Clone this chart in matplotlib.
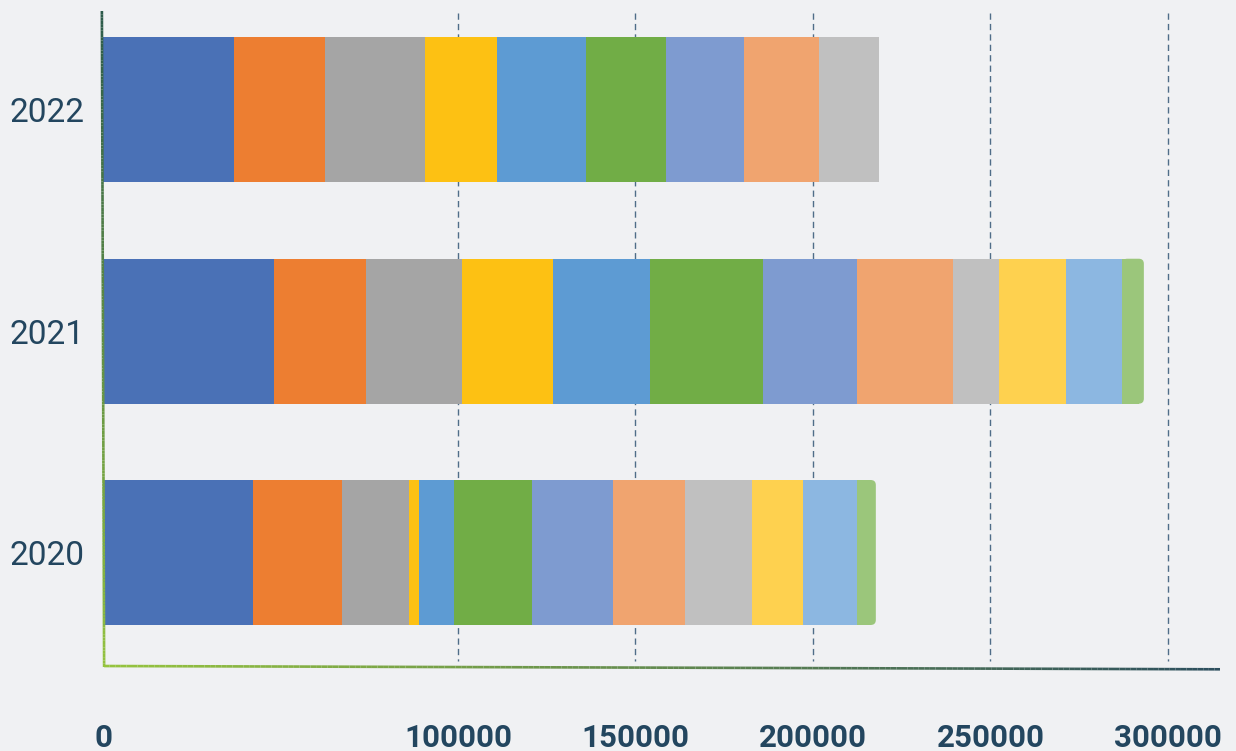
import numpy as np
import matplotlib
matplotlib.use("Agg")
import matplotlib.pyplot as plt
from matplotlib.collections import LineCollection
from matplotlib.colors import to_rgb
from matplotlib.patches import FancyBboxPatch

years = ["2020", "2021", "2022"]
values_2020 = [42250, 24950, 18900, 3000, 9800, 21900, 22800, 20300, 18900, 14400, 15200, 5300]
values_2021 = [48250, 25750, 27200, 25600, 27300, 31800, 26400, 27200, 12900, 18900, 15800, 6100]
values_2022 = [36900, 25700, 28100, 20300, 25000, 22700, 21900, 21100, 16800]
x_ticks = [0, 100000, 150000, 200000, 250000, 300000]

colors = ["#4A71B6", "#ED7E31", "#A5A5A5", "#FDC113", "#5D9BD3", "#71AD46",
          "#7E9BD0", "#F0A46F", "#C0C0C0", "#FED14F", "#8CB7E1", "#9BC67B"]
bg = "#F0F1F3"
text_color = "#23465F"

plt.rcParams["font.family"] = ["Roboto", "DejaVu Sans"]

fig = plt.figure(figsize=(12.36, 7.51), dpi=100, facecolor=bg)
W, H = 1236, 751
ax = fig.add_axes([103 / W, 1 - 667 / H, (1220 - 103) / W, (667 - 11) / H])
ax.set_facecolor(bg)

xmax = 314650
ax.set_xlim(0, xmax)
ax.set_ylim(-0.5175, 2.447)
bar_h = 0.655

# rounded right end on the last segment (px radius converted to data units)
px_x = xmax / (1220 - 103)
px_y = (2.447 + 0.5175) / (667 - 11)
r_px = 5
rx = r_px * px_x
aspect = (r_px * px_y) / rx
rounded = {"2020": True, "2021": True, "2022": False}

for yi, (year, vals) in enumerate(zip(years, [values_2020, values_2021, values_2022])):
    left = 0
    for i, v in enumerate(vals):
        last = i == len(vals) - 1
        if last and rounded[year]:
            ax.add_patch(FancyBboxPatch((left, yi - bar_h / 2), v, bar_h,
                                        boxstyle=f"round,pad=0,rounding_size={rx}",
                                        mutation_aspect=aspect,
                                        facecolor=colors[i], edgecolor="none", zorder=3))
            ax.barh(yi, v - rx, left=left, height=bar_h, color=colors[i], zorder=3)
        else:
            ax.barh(yi, v, left=left, height=bar_h, color=colors[i], zorder=3)
        left += v

# dashed vertical gridlines
for t in x_ticks[1:]:
    ax.plot([t, t], [2.44, -0.49], color="#4F6D88", lw=1.0,
            dashes=(4.5, 3), zorder=1)

for s in ax.spines.values():
    s.set_visible(False)


def gradient_line(p0, p1, c0, c1, n=200, lw=1.9):
    xs = np.linspace(p0[0], p1[0], n + 1)
    ys = np.linspace(p0[1], p1[1], n + 1)
    segs = [[(xs[k], ys[k]), (xs[k + 1], ys[k + 1])] for k in range(n)]
    a, b = np.array(to_rgb(c0)), np.array(to_rgb(c1))
    cols = [a + (b - a) * k / (n - 1) for k in range(n)]
    lc = LineCollection(segs, colors=cols, linewidths=lw,
                        transform=ax.transAxes, clip_on=False, zorder=4,
                        capstyle="butt")
    ax.add_collection(lc)


gradient_line((-0.001, 1.0), (0.001, 0.0), "#2C5A4A", "#93C23F")
gradient_line((0.001, 0.0015), (1.0, -0.0035), "#96C43E", "#2D4F5E")

ax.set_yticks(range(len(years)))
ax.set_yticklabels(years, fontsize=24, color=text_color)
ax.set_xticks(x_ticks)
ax.set_xticklabels([str(t) for t in x_ticks], fontsize=22.5,
                   fontweight="bold", color=text_color)
ax.tick_params(axis="y", length=0, pad=13)
ax.tick_params(axis="x", length=0, pad=40)

fig.savefig("out.png", dpi=100, facecolor=bg)
